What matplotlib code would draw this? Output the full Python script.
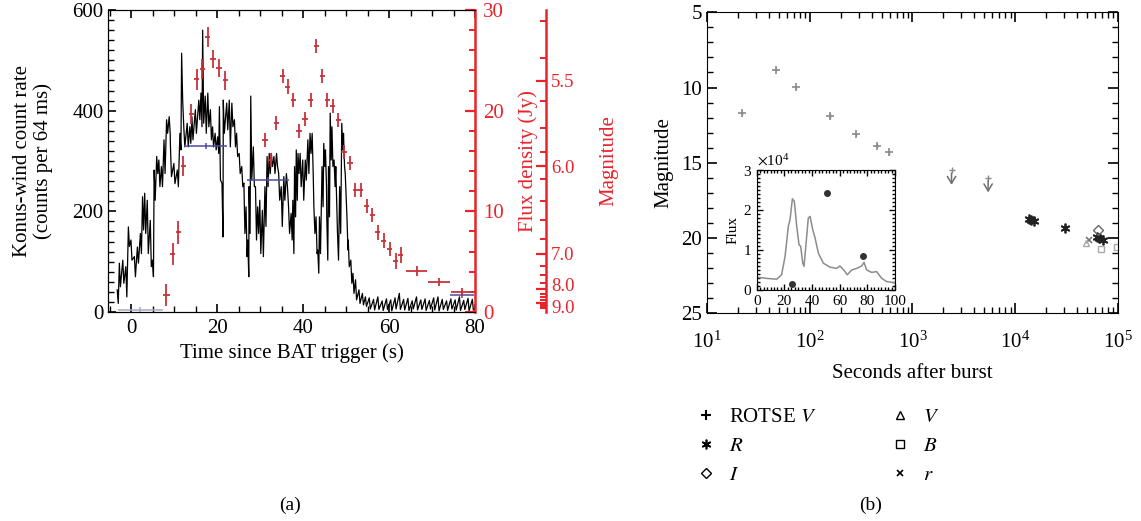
import numpy as np
import matplotlib.pyplot as plt
import matplotlib.transforms as mtransforms
from matplotlib.ticker import MultipleLocator, FixedLocator, NullFormatter, LogLocator
from matplotlib.lines import Line2D

plt.rcParams['font.family'] = 'Liberation Serif'
plt.rcParams['mathtext.fontset'] = 'stix'

RED = '#e8232b'
PTRED = '#c8323a'

# (a) Konus-Wind count rate, upper/lower envelope of the 64 ms trace per time bin
konus_t = [-3.2, -2.7, -1.9, -1.2, -0.6, 0.0, 0.8, 1.5, 2.2, 2.7, 3.2, 3.8, 4.5, 5.0, 5.4,
           6.0, 6.5, 7.1, 7.7, 8.3, 8.9, 9.2, 10.0, 10.8, 11.4, 11.8, 12.3, 13.1, 13.7, 14.2,
           15.0, 15.8, 16.3, 16.7, 17.3, 17.9, 18.5, 19.0, 19.6, 20.2, 20.6, 21.2, 21.5, 22.3,
           22.9, 23.5, 24.1, 24.6, 25.2, 25.8, 26.3, 26.8, 27.2, 27.5, 27.9, 28.5, 29.0, 29.5,
           30.0, 30.6, 31.2, 31.7, 32.2, 32.7, 33.3, 33.9, 34.4, 35.0, 35.6, 36.2, 36.7, 37.3,
           37.7, 38.1, 38.5, 38.9, 39.4, 40.0, 40.6, 41.2, 41.7, 42.2, 42.6, 43.1, 43.5, 43.9,
           44.5, 44.9, 45.3, 45.6, 46.0, 46.4, 46.8, 47.3, 47.7, 48.1, 48.6, 49.1, 49.5, 49.9,
           50.3, 50.6, 51.2, 51.7, 52.3, 53.1, 53.9, 54.6, 55.5, 56.5, 57.5, 58.5, 59.5, 60.5,
           61.5, 62.5, 63.5, 64.5, 65.5, 66.5, 67.5, 68.5, 69.5, 70.5, 71.5, 72.5, 73.5, 74.5,
           75.5, 76.5, 77.5, 78.5, 79.5]
konus_hi = [44, 97, 103, 90, 169, 143, 110, 129, 156, 229, 236, 222, 182, 103, 282,
            309, 302, 289, 342, 382, 388, 328, 295, 282, 355, 514, 368, 375, 368, 388,
            402, 421, 435, 560, 429, 435, 402, 368, 355, 348, 408, 256, 421, 415,
            421, 415, 382, 355, 315, 289, 256, 209, 143, 249, 429, 328, 249, 209,
            222, 202, 249, 309, 315, 315, 309, 315, 275, 249, 269, 275, 209, 196,
            222, 289, 322, 315, 315, 302, 302, 342, 355, 355, 209, 189, 123, 189,
            289, 335, 322, 189, 289, 395, 368, 302, 289, 156, 249, 375, 355, 275,
            189, 143, 103, 77, 64, 44, 37, 30, 28, 25, 30, 22, 26, 24,
            28, 37, 25, 27, 22, 30, 24, 26, 23, 28, 30, 25, 22, 26,
            24, 30, 23, 27, 25]
konus_lo = [17, 50, 57, 30, 130, 103, 70, 97, 116, 163, 156, 116, 90, 70, 222,
            275, 249, 249, 275, 355, 355, 269, 255, 249, 322, 421, 328, 328, 335, 342,
            355, 382, 368, 375, 355, 368, 342, 328, 322, 315, 262, 149, 355, 362,
            328, 368, 328, 309, 275, 249, 156, 110, 70, 156, 262, 249, 143, 156,
            116, 110, 170, 249, 275, 289, 275, 289, 222, 170, 222, 249, 156, 143,
            116, 189, 222, 275, 249, 222, 262, 275, 315, 275, 156, 116, 77, 116,
            209, 289, 249, 103, 189, 302, 289, 249, 209, 103, 156, 322, 289, 222,
            123, 90, 57, 37, 24, 17, 14, 11, 6, 4, 5, 3, 5, 2,
            6, 5, 4, 3, 6, 4, 5, 3, 6, 4, 2, 5, 3, 6,
            4, 3, 5, 2, 4]

# (a) ROTSE flux density (Jy)
rotse_t = [8.1, 9.6, 10.9, 12.1, 13.9, 15.2, 16.5, 17.8, 19.0, 20.4, 21.8, 31.1, 32.4, 33.7,
           35.2, 36.4, 37.7, 39.0, 40.4, 41.7, 43.0, 44.4, 45.6, 46.9, 48.2, 49.5, 50.9, 52.1,
           53.4, 54.8, 56.1, 57.3, 58.7, 60.1, 61.5, 62.7, 66.4, 71.6, 77.0]
rotse_f = [1.7, 5.8, 7.9, 14.5, 19.7, 23.1, 24.1, 27.3, 25.1, 24.2, 23.0, 17.1, 15.1, 18.8,
           23.4, 22.4, 21.1, 18.0, 19.2, 21.1, 26.4, 23.4, 21.1, 20.5, 19.1, 15.9, 14.8, 12.1,
           12.1, 10.5, 9.6, 7.9, 7.1, 6.3, 5.1, 5.7, 4.1, 3.0, 2.0]
rotse_terr = [0.8, 0.6, 0.6, 0.6, 0.6, 0.6, 0.6, 0.6, 0.6, 0.6, 0.6, 0.6, 0.6, 0.6,
              0.6, 0.6, 0.6, 0.6, 0.6, 0.6, 0.6, 0.6, 0.6, 0.6, 0.6, 0.6, 0.6, 0.6,
              0.6, 0.6, 0.6, 0.6, 0.6, 0.6, 0.6, 0.6, 2.5, 2.6, 2.7]
rotse_ferr = [1.1, 1.1, 1.1, 1.0, 1.0, 1.0, 1.0, 1.0, 0.9, 0.9, 0.9, 0.7, 0.7, 0.7,
              0.7, 0.7, 0.7, 0.7, 0.7, 0.7, 0.7, 0.7, 0.7, 0.7, 0.7, 0.7, 0.7, 0.7,
              0.7, 0.7, 0.7, 0.7, 0.7, 0.7, 0.8, 0.8, 0.5, 0.4, 0.4]

# (a) blue time-averaged bars (Jy)
bar_t = [2.1, 17.3, 31.8, 76.9]
bar_f = [0.2, 16.5, 13.1, 1.7]
bar_terr = [5.2, 5.0, 4.85, 2.8]
bar_col = ['#a9a9c4', '#4a4aa0', '#4a4aa0', '#4a4aa0']

# (a) magnitude scale on the far right
mag_major = [5.5, 6.0, 7.0, 8.0, 9.0]
mag_minor = [5.25, 5.4, 5.6, 5.75, 5.9, 6.1, 6.3, 6.5, 6.75, 7.25, 7.5, 7.75,
             8.25, 8.5, 8.75, 9.25, 9.5, 9.75, 10.0]
F0 = 3640.0

# (b) optical light curve
rv_t = [22, 47, 73, 158, 281, 448, 594]
rv_mag = [11.71, 8.83, 9.98, 11.87, 13.09, 13.86, 14.3]
rv_err = [0.1, 0.1, 0.1, 0.2, 0.1, 0.15, 0.15]
ulim_t = [2400, 5450]
ulim_mag = [15.5, 16.0]
r_t = [13500, 14400, 15400, 30400, 62000, 66000, 71500]
r_mag = [18.75, 18.8, 18.85, 19.31, 19.95, 20.0, 20.1]
i_t = [64000]
i_mag = [19.47]
v_t = [49300]
v_mag = [20.35]
b_t = [69000, 97000]
b_mag = [20.75, 20.6]
rs_t = [52400]
rs_mag = [20.15]

# (b) inset
inset_t = [0, 7.2, 14.5, 18, 20.5, 22.9, 24.1, 25.8, 27.2, 28.9, 30.6, 31.8, 33.3, 34.2,
           35.7, 37.3, 38.6, 40.5, 42.2, 44.6, 48.2, 53, 57.8, 60.2, 63.9, 65.5, 68.7,
           72.3, 75.9, 77.6, 79.5, 83.1, 86.7, 90.4, 94, 100]
inset_f = [3200, 2900, 2700, 3800, 8400, 16000, 17600, 22800, 22200, 16000, 11300, 10900,
           6700, 5900, 11700, 18000, 18400, 15100, 13000, 9200, 6700, 5700, 5400, 6000,
           4600, 3800, 5000, 5400, 6000, 6900, 5000, 4400, 4600, 2900, 2100, 1800]
inset_pt_t = [25.3, 50.6, 76.6]
inset_pt_f = [1500, 24300, 8500]

fig = plt.figure(figsize=(11.41, 5.21), dpi=100)

# ---------------- panel (a)
ax = fig.add_axes([0.0949, 0.4012, 0.3214, 0.5796])
kt = np.array(konus_t)
tt = np.column_stack([kt - 0.12, kt + 0.12]).ravel()
yy = np.column_stack([konus_hi, konus_lo]).ravel()
ax.plot(tt, yy, color='black', lw=0.9)
ax.set_xlim(-5.4, 80)
ax.set_ylim(0, 600)
ax.xaxis.set_major_locator(MultipleLocator(20))
ax.xaxis.set_minor_locator(MultipleLocator(5))
ax.yaxis.set_major_locator(MultipleLocator(200))
ax.yaxis.set_minor_locator(MultipleLocator(20))
ax.tick_params(which='both', direction='in', top=True, right=False, labelsize=15)
ax.tick_params(which='major', length=6, width=1.2)
ax.tick_params(which='minor', length=4, width=1.0)
ax.tick_params(axis='x', which='major', pad=5)
ax.spines['right'].set_visible(False)
ax.set_xlabel('Time since BAT trigger (s)', fontsize=15, labelpad=4)
ax.set_ylabel('Konus-wind count rate\n(counts per 64 ms)', fontsize=15, linespacing=1.1,
              labelpad=14)

ax2 = ax.twinx()
ax2.set_ylim(0, 30)
for t, f, te, c in zip(bar_t, bar_f, bar_terr, bar_col):
    ax2.errorbar(t, f, xerr=te, yerr=0.3, fmt='none', ecolor=c, elinewidth=1.1)
ax2.errorbar(rotse_t, rotse_f, xerr=rotse_terr, yerr=rotse_ferr, fmt='none',
             ecolor=PTRED, elinewidth=1.3)
ax2.yaxis.set_major_locator(MultipleLocator(10))
ax2.yaxis.set_minor_locator(MultipleLocator(2))
ax2.spines['right'].set_color(RED)
ax2.spines['right'].set_linewidth(1.8)
ax2.tick_params(axis='y', which='both', direction='in', colors=RED, labelsize=15, pad=6)
ax2.tick_params(axis='y', which='major', length=7, width=1.6)
ax2.tick_params(axis='y', which='minor', length=4, width=1.4)
ax2.set_ylabel('Flux density (Jy)', color=RED, fontsize=15, labelpad=10)

ax3 = ax.twinx()
ax3.set_ylim(0, 30)
ax3.spines['right'].set_position(('axes', 1.194))
for s in ['left', 'top', 'bottom']:
    ax3.spines[s].set_visible(False)
ax3.spines['right'].set_color(RED)
ax3.spines['right'].set_linewidth(1.8)
ax3.yaxis.set_major_locator(FixedLocator([F0 * 10 ** (-0.4 * m) for m in mag_major]))
ax3.yaxis.set_minor_locator(FixedLocator([F0 * 10 ** (-0.4 * m) for m in mag_minor]))
ax3.set_yticklabels([f'{m:.1f}' for m in mag_major])
ax3.tick_params(axis='y', which='both', direction='in', colors=RED, labelsize=13.5)
ax3.tick_params(axis='y', which='major', length=7, width=1.6)
ax3.tick_params(axis='y', which='minor', length=4, width=1.4)
ax3.set_ylabel('Magnitude', color=RED, fontsize=15, labelpad=18)
# the 8.0 and 9.0 labels sit very close; nudge them apart a little
mag_labels = ax3.get_yticklabels()
mag_labels[3].set_transform(mag_labels[3].get_transform() +
                            mtransforms.ScaledTranslation(0, 4 / 100, fig.dpi_scale_trans))
mag_labels[4].set_transform(mag_labels[4].get_transform() +
                            mtransforms.ScaledTranslation(0, -4 / 100, fig.dpi_scale_trans))

# ---------------- panel (b)
bx = fig.add_axes([0.6196, 0.3987, 0.3602, 0.5777])
bx.set_xscale('log')
bx.set_xlim(10, 1e5)
bx.set_ylim(25, 5)
bx.errorbar(rv_t, rv_mag, yerr=rv_err, fmt='+', color='#8a8a8a', ms=6, mew=1.2, elinewidth=1)
for t, m in zip(ulim_t, ulim_mag):
    bx.plot(t, m, marker='+', color='#8a8a8a', ms=5, mew=1)
    bx.annotate('', xy=(t, m + 1.15), xytext=(t, m),
                arrowprops=dict(arrowstyle='->,head_length=0.5,head_width=0.3',
                                color='#6e6e6e', lw=1.1))
bx.plot(r_t, r_mag, ls='none', marker=(6, 2, 0), color='#222222', ms=7, mew=1.3)
bx.plot(rs_t, rs_mag, ls='none', marker='x', color='#777777', ms=5, mew=1.2)
bx.plot(v_t, v_mag, ls='none', marker='^', mfc='none', color='#aaaaaa', ms=5)
bx.plot(i_t, i_mag, ls='none', marker='D', mfc='none', color='#666666', ms=5)
bx.plot(b_t, b_mag, ls='none', marker='s', mfc='none', color='#aaaaaa', ms=5)
bx.yaxis.set_major_locator(MultipleLocator(5))
bx.yaxis.set_minor_locator(MultipleLocator(1))
bx.xaxis.set_major_locator(LogLocator(base=10))
bx.xaxis.set_minor_locator(LogLocator(base=10, subs=np.arange(2, 10)))
bx.xaxis.set_minor_formatter(NullFormatter())
bx.tick_params(which='both', direction='in', top=True, right=True, labelsize=15)
bx.tick_params(which='major', length=7, width=1.2)
bx.tick_params(which='minor', length=4, width=1.0)
bx.tick_params(axis='x', which='major', pad=13)
bx.set_xlabel('Seconds after burst', fontsize=15, labelpad=8)
bx.set_ylabel('Magnitude', fontsize=15, labelpad=6)

# inset
ix = fig.add_axes([0.6632, 0.4434, 0.1212, 0.2303])
ix.plot(inset_t, inset_f, color='#8c8c8c', lw=1.1)
ix.plot(inset_pt_t, inset_pt_f, ls='none', marker='o', color='#333333', ms=4)
ix.set_xlim(0, 100)
ix.set_ylim(0, 30000)
ix.xaxis.set_major_locator(MultipleLocator(20))
ix.xaxis.set_minor_locator(MultipleLocator(2.5))
ix.yaxis.set_major_locator(MultipleLocator(10000))
ix.yaxis.set_minor_locator(MultipleLocator(1000))
ix.ticklabel_format(axis='y', style='sci', scilimits=(4, 4), useMathText=True)
ix.yaxis.get_offset_text().set_fontsize(11)
ix.tick_params(which='both', direction='in', top=True, right=True, labelsize=11)
ix.tick_params(which='major', length=4, width=1)
ix.tick_params(which='minor', length=2.5, width=1)
ix.set_ylabel('Flux', fontsize=11, labelpad=2)

# legend below panel (b)
handles = [
    Line2D([], [], ls='none', marker='+', color='black', ms=7, mew=1.5),
    Line2D([], [], ls='none', marker=(6, 2, 0), color='black', ms=7, mew=1.2),
    Line2D([], [], ls='none', marker='D', mfc='none', color='black', ms=5),
    Line2D([], [], ls='none', marker='^', mfc='none', color='black', ms=6),
    Line2D([], [], ls='none', marker='s', mfc='none', color='black', ms=6),
    Line2D([], [], ls='none', marker='x', color='black', ms=5, mew=1.2),
]
labels = ['ROTSE $V$', '$R$', '$I$', '$V$', '$B$', '$r$']
fig.legend(handles, labels, loc='upper left', bbox_to_anchor=(0.610, 0.218), ncol=2,
           frameon=False, fontsize=15, handlelength=1.0, handletextpad=0.6,
           columnspacing=3.5, labelspacing=0.45, borderpad=0, borderaxespad=0)

fig.text(0.254, 0.031, '(a)', ha='center', va='center', fontsize=14)
fig.text(0.763, 0.031, '(b)', ha='center', va='center', fontsize=14)

fig.savefig('out.png', dpi=100)
